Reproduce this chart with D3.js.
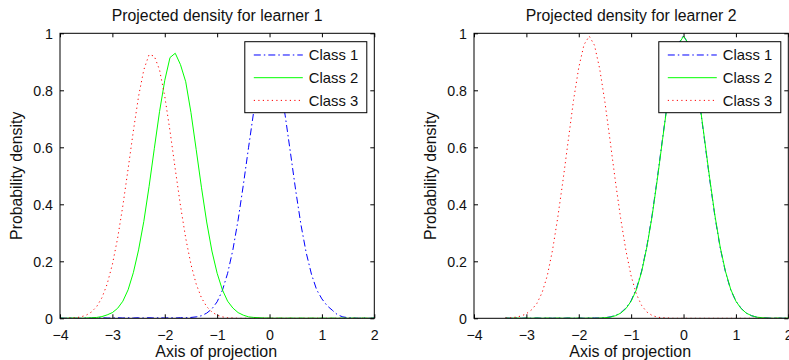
<!DOCTYPE html>
<html><head><meta charset="utf-8">
<script src="https://cdn.jsdelivr.net/npm/d3@7"></script>
<style>body{margin:0;background:#fff}svg{display:block}text{font-family:"Liberation Sans",Arial,sans-serif;fill:#111}</style>
</head><body><svg id="c" width="789" height="360"></svg>
<script>
// ---- data ----
const classNames = ["Class 1", "Class 2", "Class 3"];
const panelTitles = ["Projected density for learner 1", "Projected density for learner 2"];
const xTicks = [-4, -3, -2, -1, 0, 1, 2];
const yTicks = [0, 0.2, 0.4, 0.6, 0.8, 1];

const xLeft = [-4.0,-3.9,-3.8,-3.7,-3.6,-3.5,-3.4,-3.3,-3.2,-3.1,-3.0,-2.9,-2.8,-2.7,-2.6,-2.5,-2.4,-2.3,-2.2,-2.1,
  -2.0,-1.9,-1.8,-1.7,-1.6,-1.5,-1.4,-1.3,-1.2,-1.1,-1.0,-0.9,-0.8,-0.7,-0.6,-0.5,-0.4,-0.3,-0.2,-0.1,
  0.0,0.1,0.2,0.3,0.4,0.5,0.6,0.7,0.8,0.9,1.0,1.1,1.2,1.3,1.4,1.5,1.6,1.7,1.8,1.9,2.0];
const learner1Class1 = [0.001,0.000,0.001,0.000,0.000,0.001,0.000,0.001,0.002,0.001,0.001,0.002,0.001,0.002,0.001,0.002,0.001,0.002,0.001,0.002,
  0.001,0.002,0.001,0.002,0.002,0.003,0.005,0.009,0.018,0.033,0.058,0.098,0.158,0.240,0.345,0.468,0.600,0.728,0.835,0.905,
  0.930,0.900,0.822,0.710,0.580,0.448,0.328,0.230,0.155,0.100,0.068,0.044,0.028,0.012,0.005,0.002,0.001,0.000,0.001,0.000,0.001];
const learner1Class2 = [0.001,0.000,0.001,0.001,0.000,0.001,0.002,0.003,0.006,0.012,0.020,0.035,0.060,0.100,0.160,0.240,0.340,0.462,0.595,0.725,
  0.835,0.915,0.930,0.890,0.830,0.722,0.592,0.460,0.338,0.236,0.158,0.100,0.060,0.036,0.020,0.011,0.005,0.003,0.002,0.001,
  0.001,0.000,0.001,0.000,0.001,0.000,0.001,0.000,0.001,0.000,0.001,0.000,0.001,0.000,0.001,0.000,0.001,0.000,0.001,0.000,0.001];
const learner1Class3 = [0.000,0.000,0.001,0.002,0.005,0.011,0.022,0.041,0.072,0.120,0.189,0.281,0.395,0.524,0.657,0.779,0.872,0.925,0.920,0.872,
  0.779,0.657,0.524,0.395,0.281,0.189,0.120,0.072,0.041,0.022,0.011,0.005,0.002,0.001,0.000,0.000,0.000,0.000,0.000,0.000,
  0.000,0.000,0.000,0.000,0.000,0.000,0.000,0.000,0.000,0.000,0.000,0.000,0.000,0.000,0.000,0.000,0.000,0.000,0.000,0.000,0.000];

const xRight = [-3.4,-3.3,-3.2,-3.1,-3.0,-2.9,-2.8,-2.7,-2.6,-2.5,-2.4,-2.3,-2.2,-2.1,
  -2.0,-1.9,-1.8,-1.7,-1.6,-1.5,-1.4,-1.3,-1.2,-1.1,-1.0,-0.9,-0.8,-0.7,-0.6,-0.5,-0.4,-0.3,-0.2,-0.1,
  0.0,0.1,0.2,0.3,0.4,0.5,0.6,0.7,0.8,0.9,1.0,1.1,1.2,1.3,1.4,1.5,1.6,1.7,1.8,1.9,2.0];
const learner2Class1 = [0.001,0.000,0.001,0.000,0.001,0.000,0.001,0.000,0.001,0.000,0.001,0.000,0.001,0.000,
  0.001,0.000,0.001,0.001,0.001,0.002,0.005,0.010,0.019,0.036,0.062,0.104,0.166,0.253,0.362,0.492,0.632,0.768,0.885,0.963,
  0.992,0.960,0.880,0.764,0.626,0.486,0.356,0.247,0.163,0.100,0.060,0.035,0.018,0.009,0.004,0.002,0.001,0.000,0.001,0.000,0.001];
const learner2Class2 = [0.001,0.000,0.001,0.000,0.001,0.000,0.001,0.000,0.001,0.000,0.001,0.000,0.001,0.000,
  0.001,0.000,0.001,0.000,0.001,0.002,0.004,0.009,0.018,0.034,0.060,0.100,0.163,0.250,0.358,0.488,0.628,0.765,0.882,0.960,
  0.990,0.962,0.885,0.768,0.630,0.490,0.360,0.250,0.165,0.102,0.060,0.034,0.018,0.009,0.004,0.002,0.001,0.000,0.001,0.000,0.001];
const learner2Class3 = [0.001,0.002,0.004,0.008,0.016,0.030,0.052,0.090,0.150,0.240,0.355,0.485,0.625,0.765,
  0.880,0.960,0.990,0.958,0.875,0.758,0.620,0.480,0.350,0.238,0.148,0.085,0.045,0.022,0.010,0.004,0.002,0.001,0.000,0.000,
  0.000,0.000,0.000,0.000,0.000,0.000,0.000,0.000,0.000,0.000,0.000,0.000,0.000,0.000,0.000,0.000,0.000,0.000,0.000,0.000,0.000];

// ---- drawing ----
const svg = d3.select("#c");
const colors = ["#0000ff", "#00ff00", "#ff0000"];
const dashes = ["7,3,1.5,3", null, "1.2,3.3"];
const W = 314.3, H = 285, topY = 33.3;
const panels = [
  {left: 60, title: panelTitles[0], x: xLeft, ys: [learner1Class1, learner1Class2, learner1Class3]},
  {left: 474, title: panelTitles[1], x: xRight, ys: [learner2Class1, learner2Class2, learner2Class3]}
];
const fmt = d => d3.format("")(d);

panels.forEach((p, pi) => {
  const g = svg.append("g").attr("transform", `translate(${p.left},${topY})`);
  const x = d3.scaleLinear().domain([-4, 2]).range([0, W]);
  const y = d3.scaleLinear().domain([0, 1]).range([H, 0]);
  const cid = "clip" + pi;
  g.append("clipPath").attr("id", cid).append("rect").attr("x", 0).attr("y", -1).attr("width", W).attr("height", H + 1);

  // curves
  const line = d3.line().x(d => x(d[0])).y(d => y(d[1]));
  p.ys.forEach((ys, k) => {
    g.append("path").attr("clip-path", `url(#${cid})`)
      .datum(p.x.map((xv, i) => [xv, ys[i]]))
      .attr("d", line).attr("fill", "none")
      .attr("stroke", colors[k]).attr("stroke-width", 1)
      .attr("stroke-dasharray", dashes[k]);
  });

  // axes with inner ticks
  const ax = g.append("g").attr("transform", `translate(0,${H})`)
    .call(d3.axisBottom(x).tickValues(xTicks).tickSize(-4).tickPadding(8).tickFormat(fmt));
  const axT = g.append("g").call(d3.axisTop(x).tickValues(xTicks).tickSize(-4).tickFormat(""));
  const ay = g.append("g").call(d3.axisLeft(y).tickValues(yTicks).tickSize(-4).tickPadding(7).tickFormat(fmt));
  const ayR = g.append("g").attr("transform", `translate(${W},0)`).call(d3.axisRight(y).tickValues(yTicks).tickSize(-4).tickFormat(""));
  [ax, axT, ay, ayR].forEach(a => {
    a.select(".domain").remove();
    a.selectAll(".tick line").attr("stroke", "#000");
    a.selectAll("text").style("font-size", "14.2px").attr("fill", "#111");
  });
  ax.selectAll("text").attr("dy", "0.95em");
  ay.selectAll("text").attr("dy", "0.4em");
  g.append("rect").attr("width", W).attr("height", H).attr("fill", "none").attr("stroke", "#000").attr("stroke-width", 1);

  // title & labels
  g.append("text").attr("x", W / 2).attr("y", -12.3).attr("text-anchor", "middle").style("font-size", "15.8px").text(p.title);
  g.append("text").attr("x", W / 2 - 1).attr("y", H + 38.5).attr("text-anchor", "middle").style("font-size", "16px").text("Axis of projection");
  g.append("text").attr("transform", `translate(-38,${H / 2}) rotate(-90)`).attr("text-anchor", "middle").style("font-size", "15.8px").text("Probability density");

  // legend
  const lg = g.append("g").attr("transform", `translate(${W - 129.5},8.4)`);
  lg.append("rect").attr("width", 122).attr("height", 71).attr("fill", "#fff").attr("stroke", "#000").attr("stroke-width", 1);
  classNames.forEach((name, k) => {
    const yy = 13.3 + k * 22.7;
    lg.append("line").attr("x1", 9).attr("x2", 58).attr("y1", yy).attr("y2", yy)
      .attr("stroke", colors[k]).attr("stroke-width", 1).attr("stroke-dasharray", dashes[k]);
    lg.append("text").attr("x", 64).attr("y", yy).attr("dy", "0.36em").style("font-size", "14.8px").text(name);
  });
});
</script></body></html>
